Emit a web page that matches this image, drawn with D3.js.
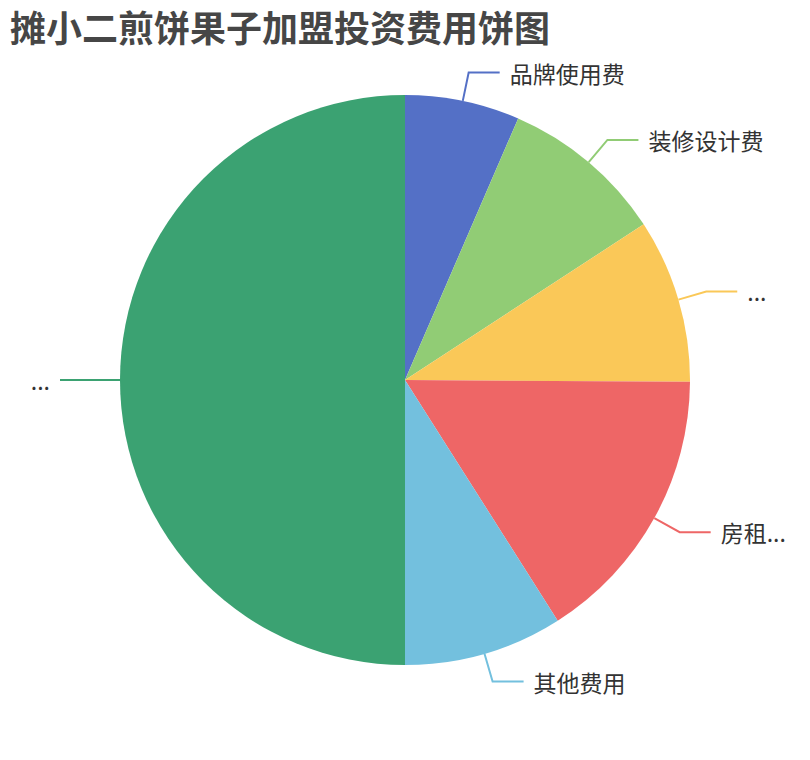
<!DOCTYPE html>
<html>
<head>
<meta charset="utf-8">
<script src="https://cdn.jsdelivr.net/npm/d3@7"></script>
<style>
  body { margin: 0; background: #fff; }
  text { font-family: "Noto Sans CJK SC", "Noto Sans", sans-serif; }
</style>
</head>
<body>
<div id="chart"></div>
<script>
// chart data
const title = "摊小二煎饼果子加盟投资费用饼图";
const categories = ["品牌使用费", "装修设计费", "...", "房租...", "其他费用", "..."];
const values = [6.5, 9.3, 9.3, 15.9, 9.0, 50.0];
const colours = ["#5470c6", "#91cc75", "#fac858", "#ee6666", "#73c0de", "#3ba272"];

const width = 810;
const height = 760;
const cx = 405;
const cy = 380;
const radius = 285;
const len1 = 29; // radial part of label line
const len2 = 31; // horizontal part

const data = categories.map((c, i) => ({ name: c, value: values[i] }));

const colourScale = d3.scaleOrdinal().domain(categories.map((c, i) => i)).range(colours);

const svg = d3
  .select("#chart")
  .append("svg")
  .attr("width", width)
  .attr("height", height);

svg
  .append("text")
  .attr("x", 10)
  .attr("y", 26)
  .attr("dominant-baseline", "central")
  .style("font-size", "36px")
  .style("font-weight", "bold")
  .style("fill", "#464646")
  .text(title);

const pie = d3.pie().sort(null).value(d => d.value);
const arcs = pie(data);

const arc = d3.arc().innerRadius(0).outerRadius(radius);

const chart = svg.append("g").attr("transform", `translate(${cx},${cy})`);

chart
  .selectAll(".slice")
  .data(arcs)
  .enter()
  .append("path")
  .attr("class", "slice")
  .attr("d", arc)
  .style("fill", (d, i) => colourScale(i));

// label lines and labels
const pointAt = (a, r) => [Math.sin(a) * r, -Math.cos(a) * r];

arcs.forEach((d, i) => {
  const mid = (d.startAngle + d.endAngle) / 2;
  const p1 = pointAt(mid, radius);
  const p2 = pointAt(mid, radius + len1);
  const right = p2[0] >= 0;
  const p3 = [p2[0] + (right ? len2 : -len2), p2[1]];

  chart
    .append("polyline")
    .attr("points", [p1, p2, p3].map(p => p.join(",")).join(" "))
    .style("fill", "none")
    .style("stroke", colourScale(i))
    .style("stroke-width", 2);

  chart
    .append("text")
    .attr("x", p3[0] + (right ? 10 : -10))
    .attr("y", p3[1])
    .attr("dominant-baseline", "central")
    .attr("text-anchor", right ? "start" : "end")
    .style("font-size", "23px")
    .style("fill", "#333")
    .text(d.data.name);
});
</script>
</body>
</html>
